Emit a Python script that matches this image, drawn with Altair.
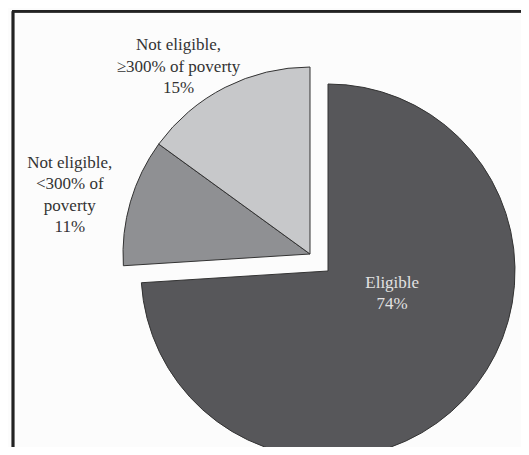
import altair as alt
import pandas as pd

categories = ["Eligible", "Not eligible, <300% of poverty", "Not eligible, \u2265300% of poverty"]
values = [74, 11, 15]
labels = ["Eligible\n74%", "Not eligible,\n<300% of\npoverty\n11%", "Not eligible,\n\u2265300% of poverty\n15%"]
colors = ["#57575a", "#8f9093", "#c7c8ca"]

df = pd.DataFrame({
    "category": categories,
    "value": values,
    "label": labels,
    "order": list(range(len(categories))),
})

W, H = 513, 439
R = 187
MAIN_C = (320, 263)
EXPL_C = (302, 246)
FONT = "Liberation Serif"
LH = 21.5

base = (
    alt.Chart(df)
    .transform_joinaggregate(total="sum(value)")
    .transform_window(cum="sum(value)", sort=[alt.SortField("order")], frame=[None, 0])
    .transform_calculate(t0="2*PI*(datum.cum - datum.value)/datum.total")
    .transform_calculate(t1="2*PI*datum.cum/datum.total")
    .transform_calculate(tm="(datum.t0 + datum.t1)/2")
)

color = alt.Color("category:N", scale=alt.Scale(domain=categories, range=colors), legend=None)

main_arc = base.transform_filter(alt.datum.category == categories[0]).mark_arc(
    radius=R, stroke="#333333", strokeWidth=1
).encode(
    theta=alt.Theta("t0:Q", scale=None),
    theta2="t1:Q",
    color=color,
    x=alt.value(MAIN_C[0]),
    y=alt.value(MAIN_C[1]),
)

expl_arc = base.transform_filter(alt.datum.category != categories[0]).mark_arc(
    radius=R, stroke="#333333", strokeWidth=1
).encode(
    theta=alt.Theta("t0:Q", scale=None),
    theta2="t1:Q",
    color=color,
    x=alt.value(EXPL_C[0]),
    y=alt.value(EXPL_C[1]),
)


def label_layer(cat, nlines, center, radius, dx, dy, fill):
    return base.transform_filter(alt.datum.category == cat).mark_text(
        font=FONT, fontSize=17, lineBreak="\n", lineHeight=LH,
        align="center", baseline="middle", dx=dx,
        dy=dy - (nlines - 1) * LH / 2, fill=fill,
    ).encode(
        theta=alt.Theta("tm:Q", scale=None),
        radius=alt.value(radius),
        text="label:N",
        x=alt.value(center[0]),
        y=alt.value(center[1]),
    )


lab_elig = label_layer(categories[0], 2, MAIN_C, 62, 19, -20, "#e2e2e2")
lab_low = label_layer(categories[1], 4, EXPL_C, 247, -3, 10, "#333333")
lab_high = label_layer(categories[2], 3, EXPL_C, 228, -28, 16, "#333333")

frame_left = alt.Chart(df).mark_rule(color="#222222", strokeWidth=2.5).encode(
    x=alt.value(5), y=alt.value(3.3), y2=alt.value(H)
)
frame_top = alt.Chart(df).mark_rule(color="#222222", strokeWidth=2.5).encode(
    y=alt.value(3.3), x=alt.value(4), x2=alt.value(W)
)

chart = alt.layer(
    main_arc, expl_arc, lab_elig, lab_low, lab_high, frame_left, frame_top
).properties(
    width=W, height=H, padding=0, background="#fcfcfc",
    autosize=alt.AutoSizeParams(type="none"),
).configure(font=FONT).configure_text(font=FONT).configure_view(stroke=None)

chart.save("out.html", embed_options={"renderer": "svg", "actions": False})
